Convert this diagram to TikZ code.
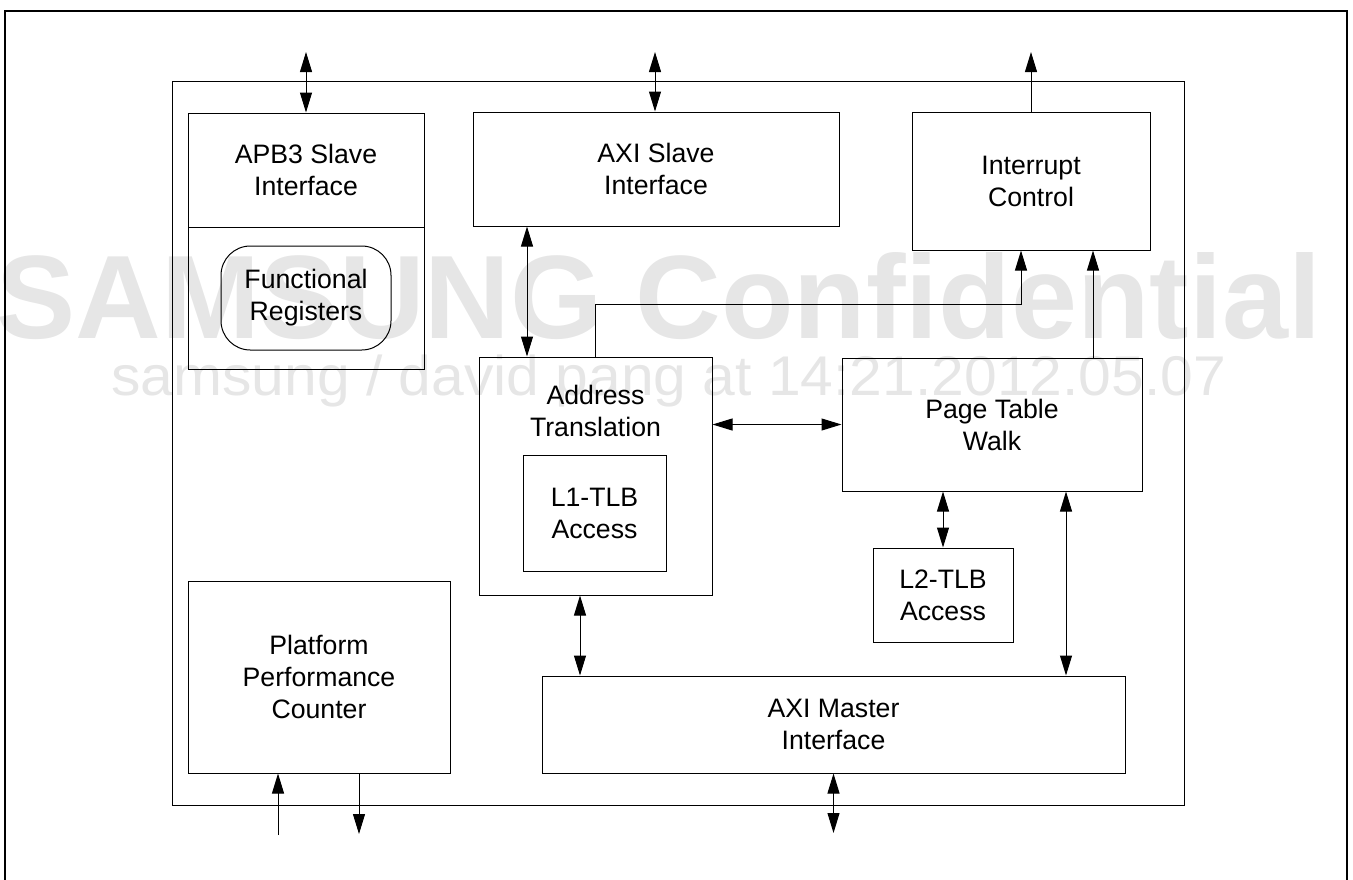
\documentclass[tikz,border=0pt]{standalone}
\usepackage{fontspec}
\setmainfont{Liberation Sans}
\usepackage{xcolor}
\usepackage{tikz}
\usetikzlibrary{positioning, arrows.meta}
\definecolor{markgray}{RGB}{230,230,230}
\tikzset{
  mmubox/.style={
    rectangle, draw=black, line width=0.75pt,
    inner sep=0pt, align=center,
    font=\fontsize{20}{24}\selectfont
  },
  mmuround/.style={
    mmubox, rounded corners=22pt
  },
  mmulabel/.style={
    align=center, font=\fontsize{20}{24}\selectfont
  },
  mmuframe/.style={
    draw=black, line width=1.5pt
  },
  mmuarrow/.style={
    -{Triangle[length=15pt, width=9pt]}, line width=0.75pt
  },
  mmubiarrow/.style={
    {Triangle[length=15pt, width=9pt]}-{Triangle[length=15pt, width=9pt]},
    line width=0.75pt
  },
  markbig/.style={
    anchor=base west, inner sep=0pt, text=markgray,
    font=\fontsize{89}{89}\selectfont\bfseries
  },
  marksmall/.style={
    anchor=base west, inner sep=0pt, text=markgray,
    font=\fontsize{42}{42}\selectfont, xscale=1.05, transform shape
  },
}

\begin{document}
\begin{tikzpicture}[x=0.75pt, y=-0.75pt]
  \useasboundingbox (0,0) rectangle (1353,879);

  % Watermark
  \node[markbig]   (mark1) at (-4,338) {SAMSUNG Confidential};
  \node[marksmall] (mark2) at (111,395) {samsung / david pang at 14:21.2012.05.07};

  % Frames
  \draw[mmuframe] (5,885) -- (5,11) -- (1347,11) -- (1347,885);
  \node[mmubox, minimum width=759pt, minimum height=543pt] (chip) at (678,443) {};

  % Blocks
  \node[mmubox, minimum width=177pt, minimum height=85.5pt] (apb) at (306,170)
        {APB3 Slave\\Interface};
  \node[mmubox, minimum width=177pt, minimum height=106.5pt] (apbreg) at (306,298) {};
  \node[mmuround, minimum width=127.5pt, minimum height=78pt] (funcreg) at (306,298)
        {Functional\\Registers};
  \node[mmubox, minimum width=274.5pt, minimum height=85.5pt] (axis) at (656,169)
        {AXI Slave\\Interface};
  \node[mmubox, minimum width=178.5pt, minimum height=103.5pt] (irq) at (1031,181)
        {Interrupt\\Control};
  \node[mmubox, minimum width=174.75pt, minimum height=178.5pt] (at) at (595.5,476) {};
  \node[mmulabel] (atlabel) at (595.5,411) {Address\\Translation};
  \node[mmubox, minimum width=107.25pt, minimum height=87pt] (l1) at (594.5,513)
        {L1-TLB\\Access};
  \node[mmubox, minimum width=225pt, minimum height=99.75pt] (ptw) at (992,424.5)
        {Page Table\\Walk};
  \node[mmubox, minimum width=105pt, minimum height=70.5pt] (l2) at (943,595)
        {L2-TLB\\Access};
  \node[mmubox, minimum width=437.25pt, minimum height=72.75pt] (axim) at (833.5,724.5)
        {AXI Master\\Interface};
  \node[mmubox, minimum width=196.5pt, minimum height=144pt] (ppc) at (319,677)
        {Platform\\Performance\\Counter};

  % Pins and columns
  \coordinate (apbpin)  at (306,52);
  \coordinate (axispin) at (655,52);
  \coordinate (irqpin)  at (1031,52);
  \coordinate (axipin)  at (833.5,833);
  \coordinate (ppcin)   at (278,835);
  \coordinate (ppcout)  at (359,834);
  \coordinate (slvcol)  at (527,0);
  \coordinate (mstcol)  at (580,0);
  \coordinate (walkcol) at (1066,0);
  \coordinate (irqcol)  at (1093,0);
  \coordinate (irqbend) at (1021,304);

  % External connections
  \draw[mmubiarrow] (apbpin) -- (apb.north);
  \draw[mmubiarrow] (axispin) -- (axis.north -| axispin);
  \draw[mmuarrow]   (irq.north) -- (irqpin);
  \draw[mmubiarrow] (axim.south) -- (axipin);
  \draw[mmuarrow]   (ppcin) -- (ppc.south -| ppcin);
  \draw[mmuarrow]   (ppc.south -| ppcout) -- (ppcout);

  % Internal connections
  \draw[mmubiarrow] (axis.south -| slvcol) -- (at.north -| slvcol);
  \draw[mmubiarrow] (at.south -| mstcol) -- (axim.north -| mstcol);
  \draw[mmubiarrow] (at.east |- ptw) -- (ptw.west);
  \draw[mmubiarrow] (ptw.south -| l2) -- (l2.north);
  \draw[mmubiarrow] (ptw.south -| walkcol) -- (axim.north -| walkcol);
  \draw[mmuarrow]   (at.north) |- (irqbend) -- (irq.south -| irqbend);
  \draw[mmuarrow]   (ptw.north -| irqcol) -- (irq.south -| irqcol);
\end{tikzpicture}
\end{document}
